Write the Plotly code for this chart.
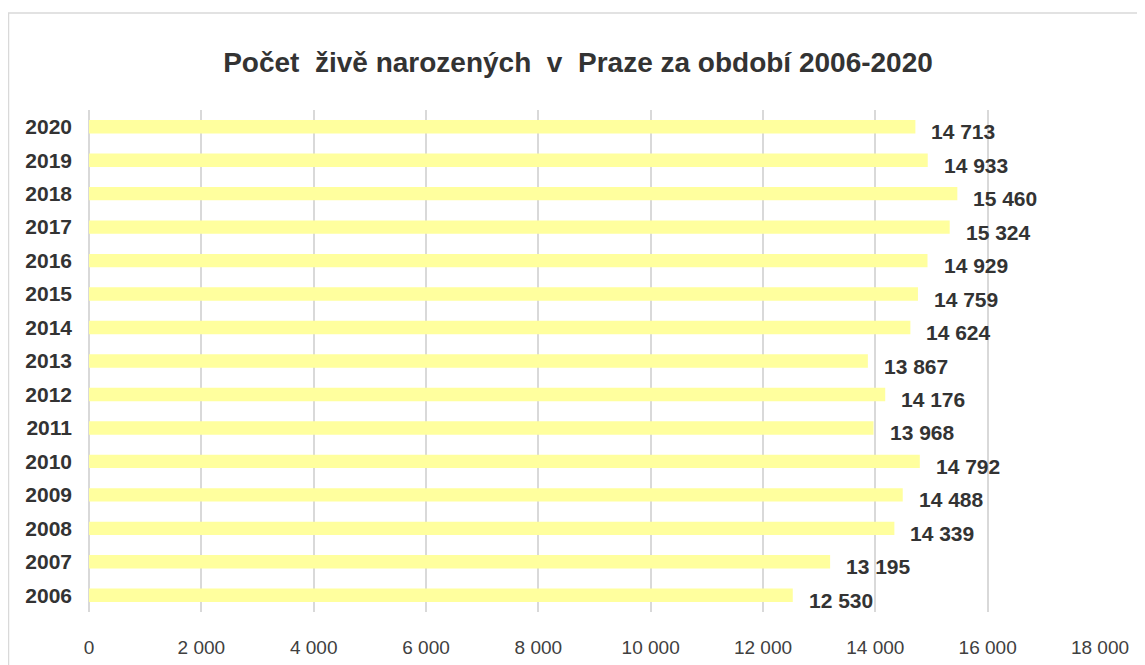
import plotly.graph_objects as go

years = ["2006", "2007", "2008", "2009", "2010", "2011", "2012", "2013",
         "2014", "2015", "2016", "2017", "2018", "2019", "2020"]
births = [12530, 13195, 14339, 14488, 14792, 13968, 14176, 13867,
          14624, 14759, 14929, 15324, 15460, 14933, 14713]
x_ticks = [0, 2000, 4000, 6000, 8000, 10000, 12000, 14000, 16000, 18000]

title_text = "Počet  živě narozených  v  Praze za období 2006-2020"

FONT = "Liberation Sans, Arial, sans-serif"

fig = go.Figure()
fig.add_trace(go.Bar(
    x=births, y=years, orientation="h",
    marker=dict(color="#FFFF9E", line=dict(width=0)),
    width=0.4, hoverinfo="x+y",
))

def fmt(v):
    return f"{v:,}".replace(",", " ")

# data labels (y given as category index on the category axis)
for i, v in enumerate(births):
    fig.add_annotation(
        x=v, y=i, xref="x", yref="y", text=f"<b>{fmt(v)}</b>", showarrow=False,
        xanchor="left", yanchor="middle", xshift=14, yshift=-5,
        font=dict(family=FONT, size=21, color="#333333"),
    )

L, R, T, B = 81, 53, 102, 61
W, H = 1145, 665
pw, ph = W - L - R, H - T - B

# chart frame
fig.add_shape(
    type="rect", xref="paper", yref="paper",
    x0=(0.5 - L) / pw, x1=(W + 40 - L) / pw,
    y0=-(B + 40) / ph, y1=(H - B - 5) / ph,
    line=dict(color="#D9D9D9", width=1.5), fillcolor="rgba(0,0,0,0)",
    layer="below",
)

fig.update_layout(
    width=W, height=H,
    margin=dict(l=L, r=R, t=T, b=B),
    paper_bgcolor="white", plot_bgcolor="white",
    separators=", ",
    showlegend=False,
    title=dict(
        text=f"<b>{title_text}</b>", x=570 / W, xanchor="center",
        y=1 - 54 / H, yanchor="middle",
        font=dict(family=FONT, size=28, color="#333333"),
    ),
    xaxis=dict(
        range=[0, 18000], tickvals=x_ticks,
        ticktext=[fmt(t) for t in x_ticks],
        showgrid=True, gridcolor="#D9D9D9", gridwidth=1.5,
        zeroline=True, zerolinecolor="#D9D9D9", zerolinewidth=1.5,
        showline=False, ticks="",
        tickfont=dict(family=FONT, size=19, color="#404040"),
        ticklabelstandoff=22,
        fixedrange=True,
    ),
    yaxis=dict(
        type="category",
        range=[-0.5, len(years) - 0.5], autorange=False,
        showgrid=False, showline=False, ticks="",
        tickfont=dict(family=FONT, size=21, color="#333333"),
        tickprefix="<b>", ticksuffix="</b>",
        ticklabelstandoff=16,
        fixedrange=True,
    ),
)

fig.write_html("out.html")
